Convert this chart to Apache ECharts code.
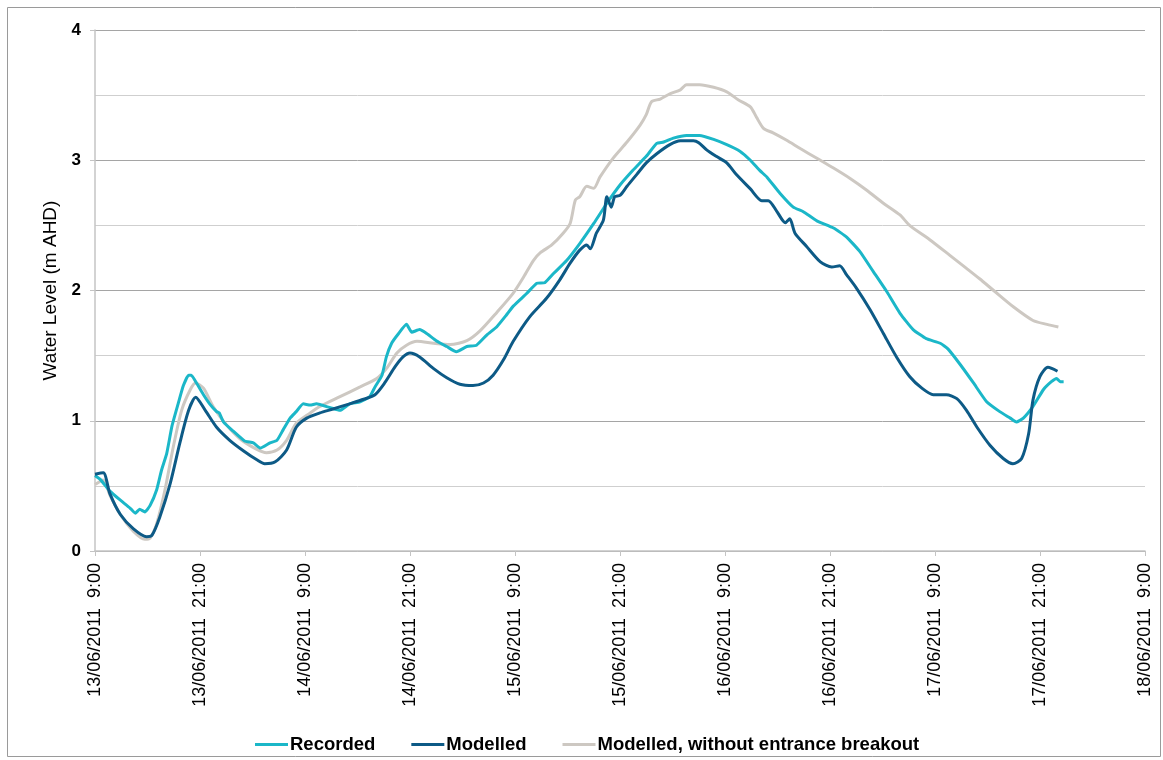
<!DOCTYPE html>
<html>
<head>
<meta charset="utf-8">
<title>Water Level</title>
<script src="https://cdn.jsdelivr.net/npm/echarts@6/dist/echarts.min.js"></script>
<style>
  html, body { margin: 0; padding: 0; background: #ffffff; }
  #chart { width: 1163px; height: 760px; }
</style>
</head>
<body>
<div id="chart"></div>
<script>
// Hours since 13/06/2011 9:00 paired with water level (m AHD)
const recorded = [
  [0,0.58],[0.6,0.55],[1.7,0.46],[2.9,0.39],[4,0.33],[4.6,0.29],[5.1,0.32],[5.7,0.30],[6.3,0.35],
  [7.05,0.47],[7.6,0.62],[8.2,0.75],[8.8,0.96],[9.5,1.13],[10.1,1.27],[10.7,1.35],[11,1.35],
  [11.6,1.29],[12.4,1.20],[13.1,1.13],[13.9,1.07],[14.2,1.06],[14.7,0.99],[15.8,0.92],[17.1,0.845],
  [18.1,0.83],[18.9,0.79],[20,0.83],[20.8,0.85],[21.5,0.93],[22.3,1.02],[23,1.07],[23.8,1.13],
  [24.6,1.12],[25.3,1.13],[26.9,1.10],[28,1.08],[29.1,1.13],[30.3,1.145],[31.4,1.185],[32,1.26],
  [32.8,1.35],[33.3,1.49],[33.9,1.595],[34.7,1.67],[35.6,1.74],[36.2,1.68],[37.1,1.70],[37.9,1.67],
  [39,1.615],[40.2,1.57],[41.3,1.53],[42.5,1.57],[43.6,1.58],[44.8,1.66],[45.9,1.72],[47,1.81],
  [47.8,1.88],[49.3,1.975],[50.5,2.055],[51.4,2.06],[52.4,2.13],[53.9,2.23],[55.4,2.36],[57,2.515],
  [58.5,2.67],[60,2.81],[61.5,2.925],[63,3.03],[64.2,3.13],[65,3.14],[66.1,3.17],[67.6,3.19],
  [69.1,3.19],[70.7,3.16],[72.2,3.12],[73.7,3.07],[74.9,3.00],[76,2.92],[76.8,2.87],[78.3,2.745],
  [79.8,2.64],[80.95,2.605],[82.5,2.535],[84.4,2.48],[85.9,2.41],[87.4,2.30],[88.95,2.145],
  [90.5,1.99],[92,1.825],[93.5,1.70],[95,1.63],[96.6,1.595],[97.5,1.55],[98.9,1.43],[100.4,1.29],
  [101.9,1.146],[103.4,1.07],[104.6,1.02],[105.3,0.99],[106.1,1.02],[107.2,1.11],[108.4,1.24],
  [109.3,1.30],[109.9,1.325],[110.3,1.30],[110.7,1.30]
];

const modelled = [
  [0,0.59],[0.95,0.60],[1.7,0.44],[2.9,0.28],[4.4,0.17],[5.9,0.11],[6.5,0.12],[7.4,0.26],[8.6,0.52],
  [9.7,0.83],[10.7,1.08],[11.5,1.18],[12.6,1.08],[13.9,0.95],[15.4,0.85],[16.95,0.77],[18.5,0.70],
  [19.4,0.67],[20.6,0.685],[21.9,0.775],[23,0.95],[24.2,1.02],[25.7,1.06],[27.2,1.09],[29.1,1.13],
  [30.7,1.165],[32,1.20],[33.1,1.29],[34.3,1.415],[35.2,1.49],[36,1.52],[37.1,1.49],[38.7,1.40],
  [40.2,1.33],[41.7,1.28],[43.2,1.27],[44.4,1.29],[45.5,1.35],[46.7,1.47],[47.8,1.61],[49.7,1.80],
  [51.6,1.94],[53.1,2.08],[54.3,2.21],[55.4,2.31],[56.2,2.35],[56.6,2.32],[57.3,2.44],[58.1,2.54],
  [58.5,2.72],[59,2.64],[59.4,2.72],[60,2.73],[60.8,2.80],[61.9,2.89],[63,2.98],[64.2,3.05],
  [65.7,3.12],[66.9,3.15],[68.4,3.15],[69,3.135],[69.9,3.08],[71,3.03],[72.2,2.98],[73.3,2.89],
  [74.9,2.78],[76.2,2.69],[76.95,2.69],[77.9,2.61],[78.9,2.52],[79.4,2.55],[80,2.44],[81.3,2.34],
  [82.9,2.22],[84.2,2.18],[85.1,2.19],[85.9,2.12],[87,2.02],[88.6,1.85],[90.1,1.67],[91.6,1.49],
  [93.1,1.34],[94.5,1.25],[95.8,1.20],[97.3,1.20],[98.5,1.17],[99.6,1.08],[100.8,0.95],[102.3,0.81],
  [103.8,0.71],[104.9,0.67],[105.9,0.71],[106.7,0.90],[107.2,1.16],[108,1.34],[108.9,1.41],[110,1.38]
];

const modelledNoBreakout = [
  [0,0.51],[0.95,0.545],[1.7,0.43],[2.9,0.28],[4.4,0.15],[5.7,0.09],[6.3,0.10],[7.05,0.21],[8,0.47],
  [8.95,0.80],[9.9,1.08],[10.9,1.24],[11.5,1.29],[12.4,1.25],[13.5,1.11],[15,0.97],[16.6,0.86],
  [18.5,0.78],[19.6,0.755],[20.8,0.775],[21.9,0.85],[23,0.98],[24.6,1.06],[25.7,1.11],[28,1.185],
  [30.3,1.26],[32.2,1.325],[33.3,1.40],[34.5,1.52],[35.6,1.58],[36.8,1.61],[38.7,1.595],[40.6,1.585],
  [42.5,1.615],[44,1.69],[45.9,1.83],[47.8,1.98],[49,2.105],[50.1,2.23],[50.9,2.29],[52.2,2.35],
  [53.5,2.44],[54.3,2.515],[54.9,2.695],[55.4,2.72],[56.2,2.80],[57,2.785],[57.7,2.87],[59.2,3.015],
  [60.8,3.14],[62.3,3.27],[63,3.35],[63.6,3.45],[64.6,3.47],[65.7,3.51],[66.9,3.54],[67.6,3.58],
  [69.1,3.58],[70.7,3.56],[72.2,3.525],[73.5,3.465],[74.9,3.41],[75.6,3.33],[76.4,3.245],[77.5,3.21],
  [79,3.155],[80.6,3.09],[82.5,3.015],[84.4,2.94],[86.3,2.86],[88.2,2.77],[90.1,2.67],[92,2.58],
  [93.1,2.50],[95.4,2.39],[97.7,2.27],[99.6,2.17],[101.1,2.09],[102.7,2.00],[104.95,1.875],
  [107.2,1.77],[108.8,1.74],[110.1,1.72]
];

// Tick labels every 12 hours
const tickLabels = [
  '13/06/2011  9:00', '13/06/2011  21:00', '14/06/2011  9:00', '14/06/2011  21:00',
  '15/06/2011  9:00', '15/06/2011  21:00', '16/06/2011  9:00', '16/06/2011  21:00',
  '17/06/2011  9:00', '17/06/2011  21:00', '18/06/2011  9:00'
];

const seriesNames = ['Recorded', 'Modelled', 'Modelled, without entrance breakout'];
const seriesColors = ['#1bb7c8', '#0d5a86', '#cdc8c2'];

const font = '"Liberation Sans", Arial, sans-serif';
const chart = echarts.init(document.getElementById('chart'), null, { renderer: 'canvas' });

chart.setOption({
  animation: false,
  backgroundColor: '#ffffff',
  graphic: [{
    type: 'rect',
    shape: { x: 7.5, y: 7.5, width: 1153, height: 749 },
    style: { fill: 'none', stroke: '#9a9a9a', lineWidth: 1 },
    silent: true
  }],
  grid: { left: 95, right: 18, top: 30, bottom: 209, containLabel: false },
  legend: {
    left: 250, top: 730,
    icon: 'rect', itemWidth: 33, itemHeight: 3, itemGap: 36,
    textStyle: { fontFamily: font, fontSize: 18.5, fontWeight: 'bold', color: '#000', padding: [0, 0, 0, -3] },
    data: seriesNames
  },
  xAxis: {
    type: 'value', min: 0, max: 120, interval: 12,
    axisLine: { lineStyle: { color: '#c4c4c4', width: 1.5 } },
    axisTick: { show: true, length: 5, lineStyle: { color: '#c4c4c4' } },
    splitLine: { show: false },
    axisLabel: {
      rotate: 90, margin: 12, fontFamily: font, fontSize: 18, color: '#000',
      formatter: v => tickLabels[Math.round(v / 12)] || ''
    }
  },
  yAxis: {
    type: 'value', min: 0, max: 4, interval: 1,
    name: 'Water Level (m AHD)', nameLocation: 'middle', nameGap: 28,
    nameTextStyle: { fontFamily: font, fontSize: 19, color: '#000' },
    axisLine: { show: true, lineStyle: { color: '#c4c4c4', width: 1.5 } },
    axisTick: { show: true, length: 5, lineStyle: { color: '#c4c4c4' } },
    axisLabel: { margin: 14, fontFamily: font, fontSize: 17, fontWeight: 'bold', color: '#000' },
    splitLine: { show: true, lineStyle: { color: '#a5a5a5', width: 1 } },
    minorTick: { show: false, splitNumber: 2 },
    minorSplitLine: { show: true, lineStyle: { color: '#cfcfcf', width: 1 } }
  },
  series: [
    { name: seriesNames[0], type: 'line', data: recorded, showSymbol: false, symbol: 'none', z: 3, smooth: 0.15,
      lineStyle: { color: seriesColors[0], width: 3 }, itemStyle: { color: seriesColors[0] } },
    { name: seriesNames[1], type: 'line', data: modelled, showSymbol: false, symbol: 'none', z: 4, smooth: 0.25,
      lineStyle: { color: seriesColors[1], width: 3 }, itemStyle: { color: seriesColors[1] } },
    { name: seriesNames[2], type: 'line', data: modelledNoBreakout, showSymbol: false, symbol: 'none', z: 2, smooth: 0.25,
      lineStyle: { color: seriesColors[2], width: 3 }, itemStyle: { color: seriesColors[2] } }
  ]
});
</script>
</body>
</html>
